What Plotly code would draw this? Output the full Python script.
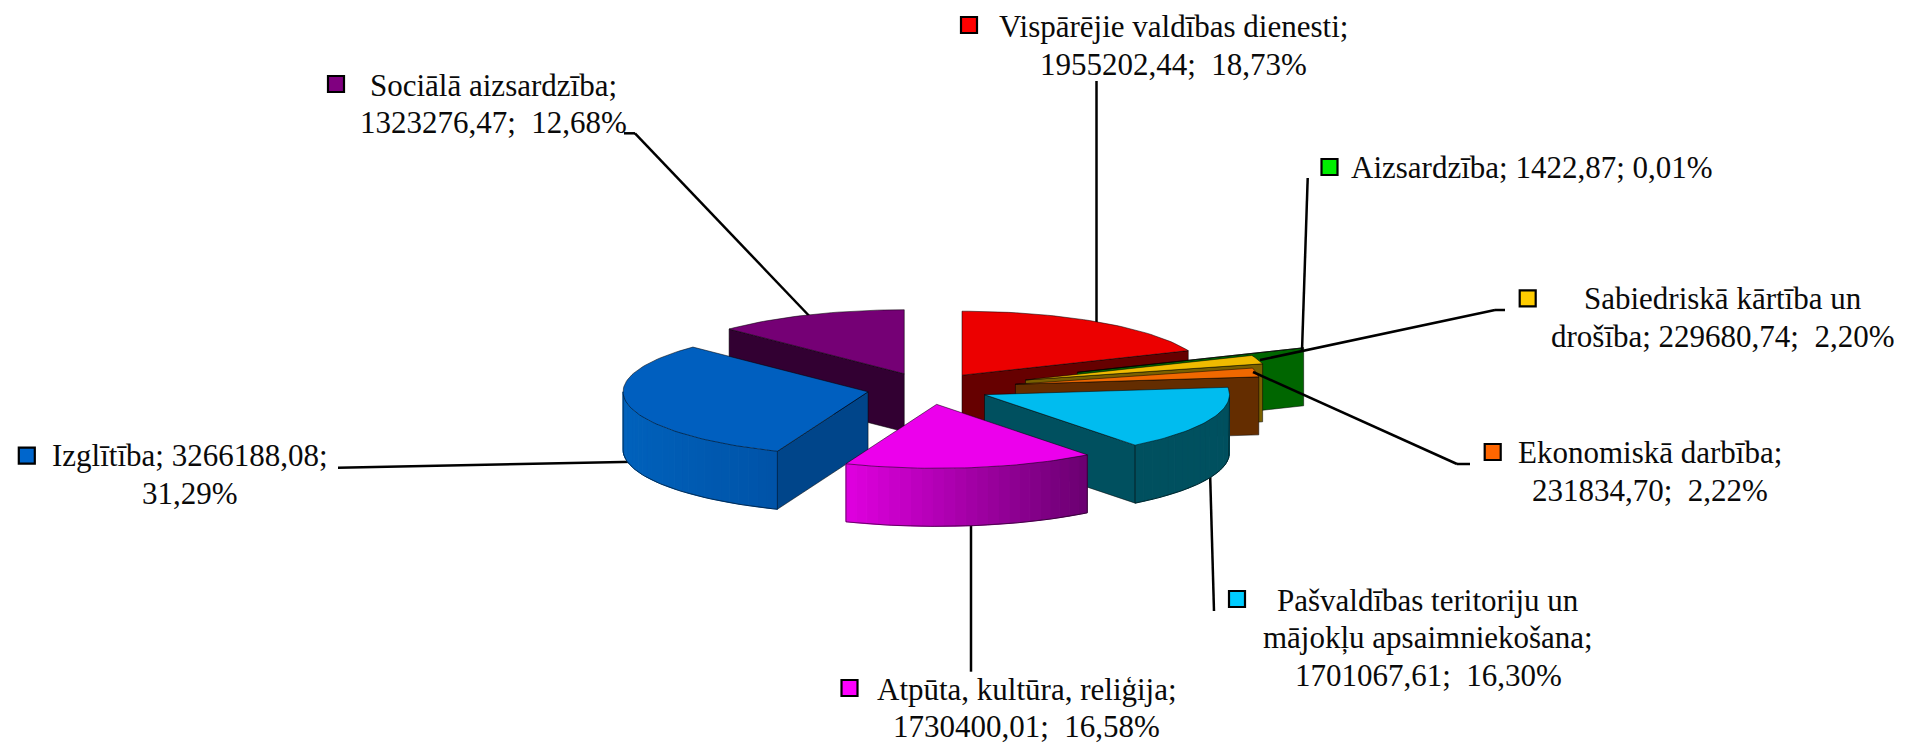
import numpy as np
import plotly.graph_objects as go

# ---- data ----
categories = ["Vispārējie valdības dienesti", "Aizsardzība", "Sabiedriskā kārtība un drošība",
              "Ekonomiskā darbība", "Pašvaldības teritoriju un mājokļu apsaimniekošana",
              "Atpūta, kultūra, reliģija", "Izglītība", "Sociālā aizsardzība"]
values = [1955202.44, 1422.87, 229680.74, 231834.70, 1701067.61, 1730400.01, 3266188.08, 1323276.47]
percent_labels = ["18,73%", "0,01%", "2,20%", "2,22%", "16,30%", "16,58%", "31,29%", "12,68%"]

label_texts = [
    "Vispārējie valdības dienesti;<br>1955202,44;  18,73%",
    "Aizsardzība; 1422,87; 0,01%",
    "Sabiedriskā kārtība un<br>drošība; 229680,74;  2,20%",
    "Ekonomiskā darbība;<br>231834,70;  2,22%",
    "Pašvaldības teritoriju un<br>mājokļu apsaimniekošana;<br>1701067,61;  16,30%",
    "Atpūta, kultūra, reliģija;<br>1730400,01;  16,58%",
    "Izglītība; 3266188,08;<br>31,29%",
    "Sociālā aizsardzība;<br>1323276,47;  12,68%",
]

# ---- styles / layout ----
key_colors = ["#FF0000", "#00EE00", "#FFCC00", "#FF6600", "#00CCFF", "#FF00FF", "#0066CC", "#800080"]
top_colors = ["#EC0000", "#00A000", "#EFBB00", "#F06800", "#00BCEF", "#EC00EC", "#005FBF", "#750075"]
wall_colors = ["#660000", "#006600", "#7A6000", "#642D00", "#00505F", "#6A0070", "#00458A", "#320032"]
rim_left = ["#660000", "#006600", "#7A6000", "#642D00", "#00505F", "#E000E0", "#0062BC", "#320032"]
rim_right = ["#660000", "#006600", "#7A6000", "#642D00", "#00505F", "#6A0070", "#0053A8", "#320032"]
explode = [0.25, 0.66, 0.42, 0.363, 0.25, 0.25, 0.25, 0.25]
draw_order = [7, 6, 0, 1, 2, 3, 4, 5]
CX, CY, RX, RY, DEPTH = 928.0, 388.5, 245.0, 64.0, 58.0
EDGE = "rgba(0,0,0,0.65)"

key_x = [969, 1329.5, 1527.7, 1492.7, 1237, 849.5, 26.8, 336]
key_y = [25, 167, 298.3, 452, 599, 688, 455.7, 84]
text_x = [1173, 1349, 1723, 1649.7, 1428, 1026.5, 190, 493]
text_y = [45.5, 167, 317.5, 471.5, 637.5, 708, 474.5, 104]
text_anchor = ["center", "left", "center", "center", "center", "center", "center", "center"]
FONT = dict(family="Liberation Serif", size=31, color="#0A0A0A")
LINE_GAP = 37.5

leaders_below = [
    [(1096.5, 81), (1096.5, 330)],
    [(338, 467.7), (635, 461.7)],
    [(624, 133.3), (635, 133.3), (815, 322)],
    [(971, 671.7), (971, 510)],
    [(1214, 611), (1210, 470)],
]
leaders_above = [
    [(1307.7, 178), (1302, 351)],
    [(1505, 310), (1495, 310), (1260, 360)],
    [(1470, 464), (1457, 464), (1253, 372)],
]


def hexrgb(h):
    return np.array([int(h[i:i + 2], 16) for i in (1, 3, 5)], dtype=float)


def mix(a, b, t):
    c = hexrgb(a) * (1 - t) + hexrgb(b) * t
    return "rgb(%d,%d,%d)" % tuple(c)


def poly(xs, ys, fill, line=EDGE, width=0.8):
    return go.Scatter(x=list(xs) + [xs[0]], y=list(ys) + [ys[0]], mode="lines", fill="toself",
                      fillcolor=fill, line=dict(color=line, width=width), hoverinfo="skip",
                      showlegend=False)


total = sum(values)
edges = np.concatenate([[0.0], np.cumsum(values)]) / total * 2 * np.pi

fig = go.Figure()
for i in draw_order:
    t1, t2 = edges[i], edges[i + 1]
    mid = (t1 + t2) / 2
    ax = CX + explode[i] * RX * np.sin(mid)
    ay = CY - explode[i] * RY * np.cos(mid)
    px = lambda t: ax + RX * np.sin(t)
    py = lambda t: ay - RY * np.cos(t)

    # radial walls that face the viewer
    for t, ok in ((t1, np.sin(t1) < -1e-6), (t2, np.sin(t2) > 1e-6)):
        if ok:
            fig.add_trace(poly([ax, px(t), px(t), ax], [ay, py(t), py(t) + DEPTH, ay + DEPTH], wall_colors[i]))

    # outer rim on the front half, in strips for the shading
    lo, hi = max(t1, np.pi / 2), min(t2, 3 * np.pi / 2)
    if hi > lo:
        n = max(2, int((hi - lo) / np.radians(2.5)))
        ts = np.linspace(lo, hi, n + 1)
        xmin, xmax = min(px(ts)), max(px(ts))
        for a, b in zip(ts[:-1], ts[1:]):
            u = (px((a + b) / 2) - xmin) / (xmax - xmin)
            c = mix(rim_left[i], rim_right[i], u)
            fig.add_trace(poly([px(a), px(b), px(b), px(a)], [py(a), py(b), py(b) + DEPTH, py(a) + DEPTH], c,
                               line=c, width=1))
        arc = np.linspace(lo, hi, 60)
        fig.add_trace(go.Scatter(x=[px(lo)] + list(px(arc)) + [px(hi), px(hi)],
                                 y=[py(lo)] + list(py(arc) + DEPTH) + [py(hi) + DEPTH, py(hi)],
                                 mode="lines", line=dict(color=EDGE, width=0.8), hoverinfo="skip", showlegend=False))

    # top face
    arc = np.linspace(t1, t2, max(3, int((t2 - t1) / np.radians(1.5))))
    fig.add_trace(poly([ax] + list(px(arc)), [ay] + list(py(arc)), top_colors[i]))

# legend keys
fig.add_trace(go.Scatter(x=key_x, y=key_y, mode="markers", hoverinfo="skip", showlegend=False,
                         marker=dict(symbol="square", size=16, color=key_colors,
                                     line=dict(color="#000000", width=2.2))))

shapes = []
for group, layer in ((leaders_below, "below"), (leaders_above, "above")):
    for pts in group:
        for (x0, y0), (x1, y1) in zip(pts[:-1], pts[1:]):
            shapes.append(dict(type="line", xref="x", yref="y", x0=x0, y0=y0, x1=x1, y1=y1, layer=layer,
                               line=dict(color="#000000", width=2.5)))

annotations = []
for x, y, t, a in zip(text_x, text_y, label_texts, text_anchor):
    lines = t.split("<br>")
    for k, line in enumerate(lines):
        annotations.append(dict(x=x, y=y + (k - (len(lines) - 1) / 2) * LINE_GAP, xref="x", yref="y", text=line,
                                showarrow=False, xanchor=a, yanchor="middle", align="center", font=FONT))

fig.update_layout(width=1912, height=745, margin=dict(l=0, r=0, t=0, b=0), paper_bgcolor="white",
                  plot_bgcolor="white", showlegend=False, shapes=shapes, annotations=annotations,
                  xaxis=dict(range=[0, 1912], visible=False, fixedrange=True),
                  yaxis=dict(range=[745, 0], visible=False, fixedrange=True))

fig.write_html("out.html", config=dict(displayModeBar=False),
               post_script="document.body.style.margin='0';document.body.style.overflow='hidden';")
